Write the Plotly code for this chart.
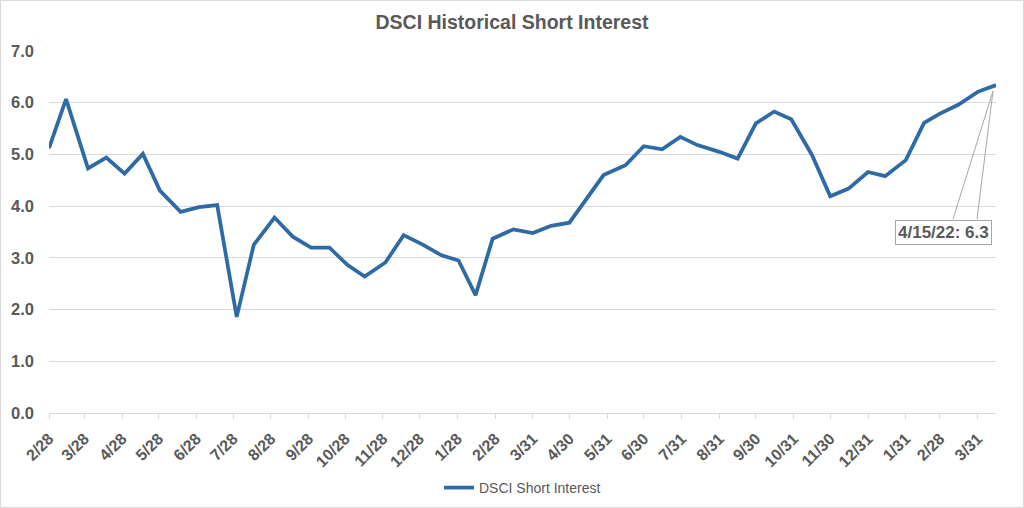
import plotly.graph_objects as go

dates = [
    "2020-02-28", "2020-03-13", "2020-03-31", "2020-04-15", "2020-04-30", "2020-05-15",
    "2020-05-29", "2020-06-15", "2020-06-30", "2020-07-15", "2020-07-31", "2020-08-14",
    "2020-08-31", "2020-09-15", "2020-09-30", "2020-10-15", "2020-10-30", "2020-11-13",
    "2020-11-30", "2020-12-15", "2020-12-31", "2021-01-15", "2021-01-29", "2021-02-12",
    "2021-02-26", "2021-03-15", "2021-03-31", "2021-04-15", "2021-04-30", "2021-05-14",
    "2021-05-28", "2021-06-15", "2021-06-30", "2021-07-15", "2021-07-30", "2021-08-13",
    "2021-08-31", "2021-09-15", "2021-09-30", "2021-10-15", "2021-10-29", "2021-11-15",
    "2021-11-30", "2021-12-15", "2021-12-31", "2022-01-14", "2022-01-31", "2022-02-15",
    "2022-02-28", "2022-03-15", "2022-03-31", "2022-04-15",
]
short_interest = [
    5.12, 6.07, 4.73, 4.94, 4.63, 5.01, 4.30, 3.89, 3.98, 4.02, 1.86, 3.25,
    3.78, 3.41, 3.20, 3.20, 2.86, 2.64, 2.91, 3.44, 3.25, 3.05, 2.95, 2.28,
    3.37, 3.55, 3.48, 3.62, 3.68, 4.15, 4.60, 4.79, 5.16, 5.10, 5.34, 5.18,
    5.05, 4.92, 5.60, 5.83, 5.68, 4.99, 4.19, 4.34, 4.66, 4.58, 4.89, 5.61,
    5.79, 5.96, 6.21, 6.34,
]
tick_dates = [
    "2020-02-28", "2020-03-28", "2020-04-28", "2020-05-28", "2020-06-28", "2020-07-28",
    "2020-08-28", "2020-09-28", "2020-10-28", "2020-11-28", "2020-12-28", "2021-01-28",
    "2021-02-28", "2021-03-31", "2021-04-30", "2021-05-31", "2021-06-30", "2021-07-31",
    "2021-08-31", "2021-09-30", "2021-10-31", "2021-11-30", "2021-12-31", "2022-01-31",
    "2022-02-28", "2022-03-31",
]
tick_labels = [
    "2/28", "3/28", "4/28", "5/28", "6/28", "7/28", "8/28", "9/28", "10/28", "11/28",
    "12/28", "1/28", "2/28", "3/31", "4/30", "5/31", "6/30", "7/31", "8/31", "9/30",
    "10/31", "11/30", "12/31", "1/31", "2/28", "3/31",
]
y_ticks = [0, 1, 2, 3, 4, 5, 6, 7]
series_name = "DSCI Short Interest"
title_text = "DSCI Historical Short Interest"
callout_text = "4/15/22: 6.3"

GRAY_TEXT = "#595959"
GRID = "#d9d9d9"
LINE = "#2e6ba6"
FONT = "Liberation Sans, Arial, sans-serif"

W, H = 1024, 508
ML, MR, MT, MB = 49, 28, 51, 95
PW, PH = W - ML - MR, H - MT - MB

fig = go.Figure()
fig.add_trace(go.Scatter(
    x=dates, y=short_interest, mode="lines", name=series_name,
    line=dict(color=LINE, width=3.75), showlegend=True,
))

last_x, last_y = dates[-1], short_interest[-1]

fig.add_annotation(
    x=last_x, y=last_y, xref="x", yref="y",
    text=callout_text, showarrow=True, arrowcolor="rgba(0,0,0,0)", arrowwidth=0.1,
    ax=-53, ay=147,
    font=dict(family=FONT, size=17, color=GRAY_TEXT, weight="bold"),
    bgcolor="white", bordercolor="#a6a6a6", borderwidth=1, borderpad=2,
)
fig.add_shape(
    type="path", xref="x", yref="y", xsizemode="pixel", ysizemode="pixel",
    xanchor=last_x, yanchor=last_y,
    path="M -3,-6 L -43,-134 M -3,-6 L -19,-134",
    line=dict(color="#a6a6a6", width=1),
)
# outer chart border
fig.add_shape(
    type="rect", xref="paper", yref="paper",
    x0=(-ML + 0.5) / PW, x1=1 + (MR - 0.5) / PW,
    y0=(-MB + 0.5) / PH, y1=1 + (MT - 0.5) / PH,
    line=dict(color=GRID, width=1), layer="below",
)

fig.update_layout(
    width=W, height=H,
    margin=dict(l=ML, r=MR, t=MT, b=MB, autoexpand=False),
    paper_bgcolor="white", plot_bgcolor="white",
    title=dict(text=title_text, x=0.5, xanchor="center", y=1 - 22 / H, yanchor="middle",
               font=dict(family=FONT, size=19.5, color=GRAY_TEXT, weight="bold")),
    showlegend=True,
    legend=dict(orientation="h", x=0.5, xanchor="center", y=-75 / PH, yanchor="middle",
                font=dict(family=FONT, size=14, color=GRAY_TEXT)),
    xaxis=dict(
        type="date", range=[dates[0], dates[-1]], automargin=False,
        tickmode="array", tickvals=tick_dates, ticktext=tick_labels,
        tickangle=-45, ticks="outside", ticklen=5, tickcolor=GRID,
        ticklabelstandoff=4,
        showgrid=False, showline=True, linecolor=GRID, linewidth=1,
        tickfont=dict(family=FONT, size=16, color=GRAY_TEXT, weight="bold"),
        zeroline=False,
    ),
    yaxis=dict(
        range=[0, 7], tickmode="array", tickvals=y_ticks, automargin=False,
        ticktext=[f"{v:.1f}" for v in y_ticks],
        showgrid=True, gridcolor=GRID, gridwidth=1, zeroline=False,
        showline=False, ticks="", ticklabelstandoff=14,
        tickfont=dict(family=FONT, size=16.5, color=GRAY_TEXT, weight="bold"),
    ),
)

fig.write_html(
    "out.html",
    config={"displayModeBar": False},
    post_script="document.body.style.margin='0';document.body.style.overflow='hidden';",
)
